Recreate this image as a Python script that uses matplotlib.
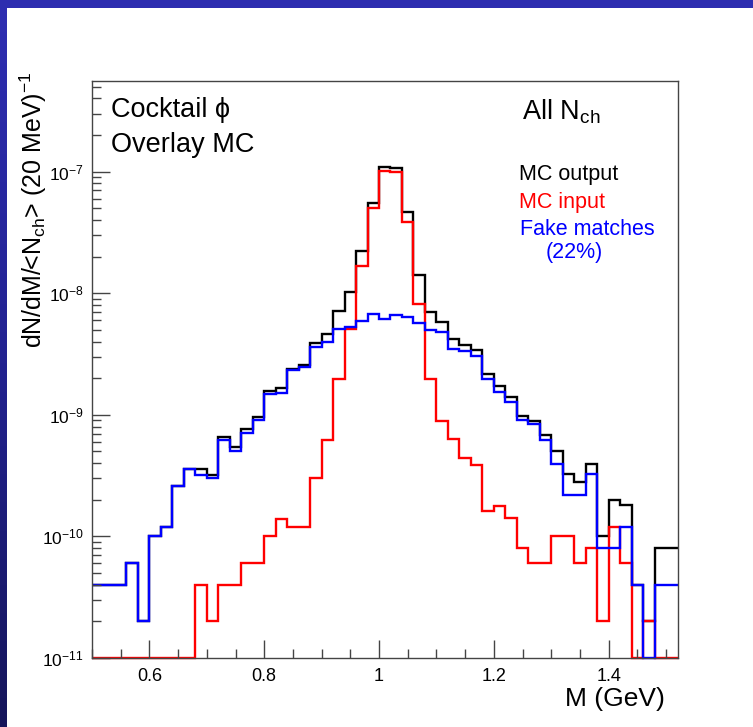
import numpy as np
import matplotlib
matplotlib.use("Agg")
import matplotlib.pyplot as plt
from matplotlib.patches import Rectangle
from matplotlib.ticker import FixedLocator, MultipleLocator, FixedFormatter, NullFormatter
from matplotlib.colors import LinearSegmentedColormap

plt.rcParams['font.family'] = ['Liberation Sans', 'DejaVu Sans']
plt.rcParams['mathtext.fontset'] = 'custom'
plt.rcParams['mathtext.rm'] = 'Liberation Sans'
plt.rcParams['mathtext.it'] = 'Liberation Sans:italic'
plt.rcParams['mathtext.bf'] = 'Liberation Sans:bold'

# ---- data (20 MeV bins from 0.50 to 1.52 GeV) ----
bin_lo = 0.50
bin_hi = 1.52
bin_w = 0.02

mc_output = [4e-11, 4e-11, 4e-11, 6e-11, 2e-11, 1.0e-10, 1.2e-10, 2.6e-10, 3.6e-10, 3.6e-10,
             3.2e-10, 6.6e-10, 5.4e-10, 7.6e-10, 9.6e-10, 1.56e-9, 1.65e-9, 2.39e-9, 2.58e-9, 3.92e-9,
             4.58e-9, 7.08e-9, 1.03e-8, 2.24e-8, 5.53e-8, 1.10e-7, 1.065e-7, 4.63e-8, 1.40e-8, 6.99e-9,
             5.79e-9, 4.17e-9, 3.77e-9, 3.43e-9, 2.15e-9, 1.71e-9, 1.40e-9, 9.72e-10, 8.89e-10, 6.79e-10,
             5.0e-10, 3.23e-10, 2.81e-10, 3.97e-10, 1.0e-10, 2.0e-10, 1.8e-10, 4e-11, 2e-11, 8e-11,
             8e-11]
mc_input = [0, 0, 0, 0, 0, 0, 0, 0, 0, 4e-11,
            2e-11, 4e-11, 4e-11, 6e-11, 6e-11, 1.0e-10, 1.4e-10, 1.2e-10, 1.2e-10, 3.0e-10,
            6.25e-10, 1.98e-9, 5.10e-9, 1.66e-8, 5.0e-8, 1.02e-7, 1.0e-7, 3.88e-8, 8.19e-9, 1.96e-9,
            8.9e-10, 6.37e-10, 4.45e-10, 3.85e-10, 1.61e-10, 1.77e-10, 1.43e-10, 8e-11, 6e-11, 6e-11,
            1.0e-10, 1.0e-10, 6e-11, 8e-11, 2e-11, 1.2e-10, 6e-11, 0, 2e-11, 0,
            0]
fake_matches = [4e-11, 4e-11, 4e-11, 6e-11, 2e-11, 1.0e-10, 1.2e-10, 2.6e-10, 3.6e-10, 3.2e-10,
                3.0e-10, 6.2e-10, 5.0e-10, 7.1e-10, 9.0e-10, 1.47e-9, 1.51e-9, 2.32e-9, 2.47e-9, 3.61e-9,
                3.94e-9, 5.1e-9, 5.26e-9, 5.86e-9, 6.78e-9, 6.09e-9, 6.57e-9, 6.36e-9, 5.68e-9, 5.0e-9,
                4.79e-9, 3.50e-9, 3.32e-9, 3.04e-9, 1.98e-9, 1.54e-9, 1.27e-9, 9.12e-10, 8.35e-10, 6.25e-10,
                3.97e-10, 2.21e-10, 2.21e-10, 3.23e-10, 8e-11, 8e-11, 1.2e-10, 4e-11, 0, 4e-11,
                4e-11]

x_ticks = [0.6, 0.8, 1.0, 1.2, 1.4]
x_tick_labels = ['0.6', '0.8', '1', '1.2', '1.4']
y_ticks = [1e-11, 1e-10, 1e-9, 1e-8, 1e-7]
y_tick_labels = [r'$10^{\mathrm{-11}}$', r'$10^{\mathrm{-10}}$', r'$10^{\mathrm{-9}}$',
                 r'$10^{\mathrm{-8}}$', r'$10^{\mathrm{-7}}$']
y_min, y_max = 1e-11, 5.56e-7

# ---- figure ----
W, H = 753, 727
fig = plt.figure(figsize=(W / 100, H / 100), dpi=100, facecolor='white')

# slide decoration: left gradient strip and blue top band
cm = LinearSegmentedColormap.from_list('slide', ['#2e2eb2', '#222290', '#15155a'])
strip = np.tile(np.linspace(1, 0, H).reshape(-1, 1), (1, 7))
fig.figimage(strip, xo=0, yo=0, cmap=cm, origin='lower', zorder=-5)
fig.patches.append(Rectangle((0, 1 - 8 / H), 1, 8 / H, transform=fig.transFigure,
                             facecolor='#2d2db0', edgecolor='none', zorder=-4))

ax_l, ax_r, ax_t, ax_b = 92, 677.5, 81, 658
ax = fig.add_axes([ax_l / W, 1 - ax_b / H, (ax_r - ax_l) / W, (ax_b - ax_t) / H])

edges = np.round(np.arange(bin_lo, bin_hi + bin_w / 2, bin_w), 4)

def draw(vals, color):
    v = np.asarray(vals, dtype=float)
    v = np.where(v > 0, v, y_min)
    ax.stairs(v, edges, baseline=None, color=color, lw=1.7, clip_on=False)

draw(mc_output, 'black')
draw(mc_input, '#ff0000')
draw(fake_matches, '#0000ff')

ax.set_yscale('log')
ax.set_xlim(bin_lo, bin_hi)
ax.set_ylim(y_min, y_max)

frame_c = '#444444'
for s in ax.spines.values():
    s.set_color(frame_c)
    s.set_linewidth(1.0)

ax.xaxis.set_major_locator(FixedLocator(x_ticks))
ax.xaxis.set_minor_locator(MultipleLocator(0.05))
ax.xaxis.set_major_formatter(FixedFormatter(x_tick_labels))
ax.xaxis.set_minor_formatter(NullFormatter())

minor_y = [m * d for d in y_ticks for m in range(2, 10) if m * d < y_max]
ax.yaxis.set_major_locator(FixedLocator(y_ticks))
ax.yaxis.set_minor_locator(FixedLocator(minor_y))
ax.yaxis.set_major_formatter(FixedFormatter(y_tick_labels))
ax.yaxis.set_minor_formatter(NullFormatter())

ax.tick_params(which='both', direction='in', top=False, right=False, color=frame_c, width=1.0)
ax.tick_params(which='major', length=13)
ax.tick_params(which='minor', length=6.5)
ax.tick_params(axis='x', which='major', labelsize=13, pad=7)
ax.tick_params(axis='y', which='major', labelsize=12.5, pad=6)

def ftext(x, y, s, **kw):
    fig.text(x / W, 1 - y / H, s, **kw)

# axis titles
ftext(665, 706, 'M (GeV)', fontsize=19, ha='right', va='baseline')
fig.text(33 / W, 1 - 72 / H, r'dN/dM/<N$_{\rm ch}$> (20 MeV)$^{-1}$', fontsize=18,
         rotation=90, ha='center', va='top')

# in-plot texts
ftext(111, 117, 'Cocktail ϕ', fontsize=19.5, va='baseline')
ftext(111, 152, 'Overlay MC', fontsize=19.5, va='baseline')
ftext(522, 120, r'All N$_{\rm ch}$', fontsize=19.5, va='baseline')
ftext(519, 180, 'MC output', fontsize=15.5, va='baseline', color='black')
ftext(519, 208, 'MC input', fontsize=15.5, va='baseline', color='#ff0000')
ftext(520, 235, 'Fake matches', fontsize=15.5, va='baseline', color='#0000ff')
ftext(546, 258, '(22%)', fontsize=15.5, va='baseline', color='#0000ff')

fig.savefig('out.png', dpi=100, facecolor='white')
